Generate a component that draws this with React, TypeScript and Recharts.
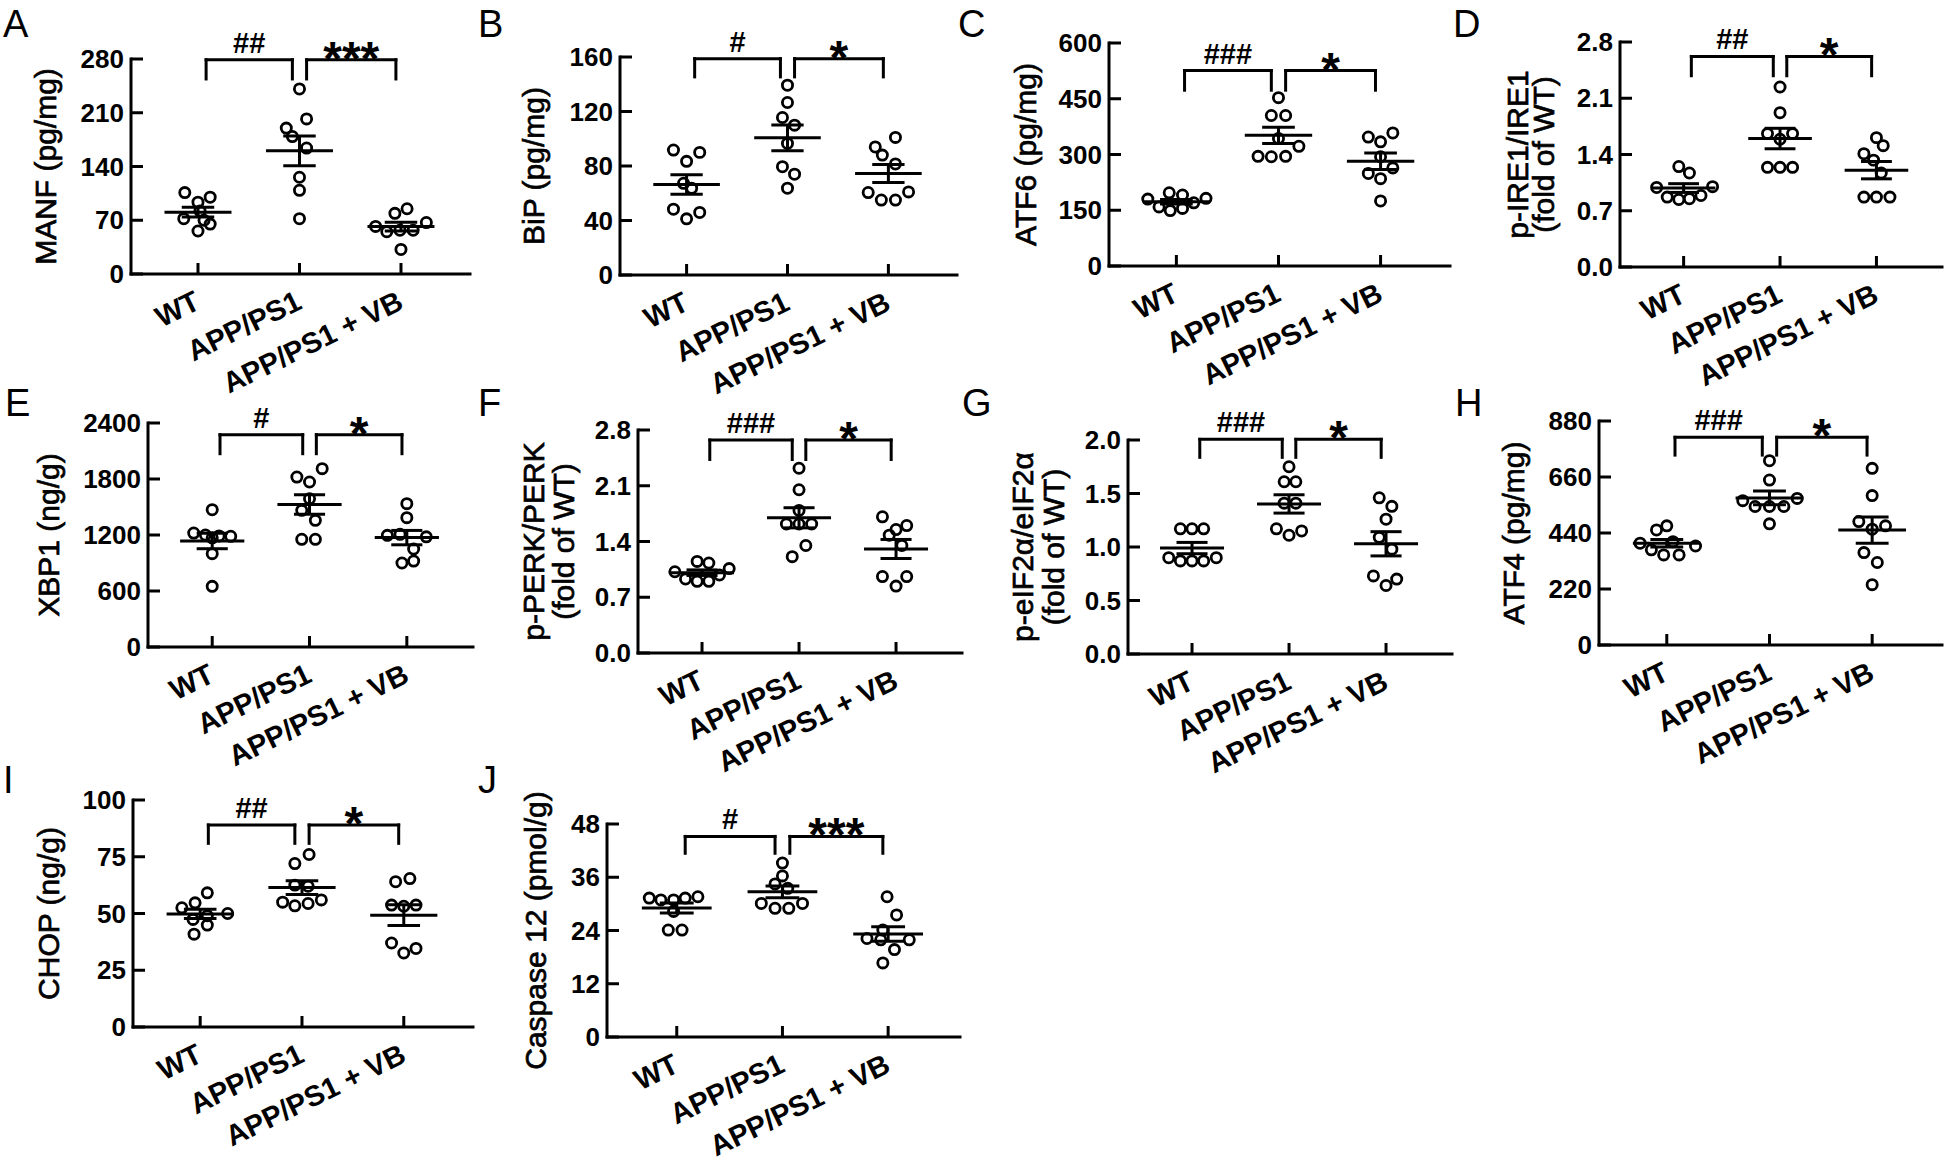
import React from 'react';
import { ScatterChart, Scatter, XAxis, YAxis, ReferenceLine } from 'recharts';

const FONT = "'Liberation Sans', Arial, Helvetica, sans-serif";

const groups = ['WT', 'APP/PS1', 'APP/PS1 + VB'];

// A - MANF (pg/mg)
const manfTicks = [0, 70, 140, 210, 280];
const manfSig = ['##', '***'];
const manfValues = [
  [106, 100, 93.5, 82, 72, 70, 65, 56],
  [241, 202, 190, 179, 164, 126, 109, 72],
  [79, 85, 62, 55, 57, 57, 67, 32],
];
const manfJitter = [
  [-0.13, 0.12, 0, 0.02, -0.14, 0.06, 0.12, 0],
  [0, 0.07, -0.13, -0.07, 0.07, 0, 0, 0],
  [-0.06, 0.06, -0.25, -0.14, -0.01, 0.12, 0.25, 0],
];

// B - BiP (pg/mg)
const bipTicks = [0, 40, 80, 120, 160];
const bipSig = ['#', '*'];
const bipValues = [
  [91.7, 90, 83.4, 67.3, 63.7, 48.3, 45.9, 41.2],
  [139.3, 126.6, 115.6, 110, 96.6, 79.5, 74, 63.7],
  [101, 94, 88, 81.5, 60.5, 55, 55, 61],
];
const bipJitter = [
  [-0.13, 0.13, 0, -0.03, 0.05, -0.13, 0.13, 0],
  [0, 0, -0.05, 0.07, 0, -0.05, 0.07, 0],
  [0.07, -0.13, -0.06, 0.07, -0.2, -0.07, 0.07, 0.2],
];

// C - ATF6 (pg/mg)
const atf6Ticks = [0, 150, 300, 450, 600];
const atf6Sig = ['###', '*'];
const atf6Values = [
  [180, 159, 197, 149, 191, 155, 170, 182],
  [453, 405, 405, 343, 322, 295, 294, 295],
  [358, 347, 334, 294, 264, 249, 235, 175],
];
const atf6Jitter = [
  [-0.28, -0.17, -0.07, -0.06, 0.06, 0.06, 0.17, 0.29],
  [0, -0.07, 0.07, 0, 0.2, -0.2, -0.07, 0.07],
  [0.12, -0.12, 0, 0, 0.12, -0.12, 0, 0],
];

// D - p-IRE1/IRE1
const ire1Ticks = [0, 0.7, 1.4, 2.1, 2.8];
const ire1Sig = ['##', '*'];
const ire1Values = [
  [1.25, 1.17, 0.99, 1.0, 0.87, 0.84, 0.85, 0.89],
  [2.24, 1.92, 1.66, 1.66, 1.59, 1.24, 1.24, 1.24],
  [1.61, 1.51, 1.41, 1.33, 1.17, 0.87, 0.87, 0.87],
];
const ire1Jitter = [
  [-0.05, 0.06, -0.28, 0.3, -0.17, -0.05, 0.06, 0.18],
  [0, 0, -0.13, 0.13, 0, -0.13, 0, 0.13],
  [0, 0.07, -0.13, -0.03, 0.05, -0.13, 0, 0.14],
];

// E - XBP1 (ng/g)
const xbp1Ticks = [0, 600, 1200, 1800, 2400];
const xbp1Sig = ['#', '*'];
const xbp1Values = [
  [1471, 1221, 1200, 1190, 1186, 1170, 1000, 650],
  [1911, 1821, 1768, 1589, 1464, 1357, 1154, 1154],
  [1536, 1386, 1207, 1196, 1180, 1050, 921, 900],
];
const xbp1Jitter = [
  [0, -0.19, -0.07, 0.07, 0.19, 0, 0, 0],
  [0.13, -0.13, 0, 0, -0.08, 0.06, -0.08, 0.06],
  [0, 0, -0.07, -0.2, 0.2, 0.07, 0.07, -0.05],
];

// F - p-PERK/PERK
const perkTicks = [0, 0.7, 1.4, 2.1, 2.8];
const perkSig = ['###', '*'];
const perkValues = [
  [1.15, 1.13, 1.02, 1.06, 0.93, 0.9, 0.9, 0.98],
  [2.32, 2.05, 1.79, 1.62, 1.62, 1.62, 1.35, 1.21],
  [1.71, 1.6, 1.55, 1.48, 1.35, 0.96, 0.96, 0.84],
];
const perkJitter = [
  [-0.05, 0.07, -0.28, 0.28, -0.17, -0.05, 0.07, 0.18],
  [0, 0, 0, -0.13, 0, 0.13, 0.07, -0.07],
  [-0.14, 0.11, 0, -0.07, 0.06, -0.14, 0.11, 0],
];

// G - p-eIF2a/eIF2a
const eifTicks = [0, 0.5, 1.0, 1.5, 2.0];
const eifSig = ['###', '*'];
const eifValues = [
  [1.17, 1.17, 1.17, 0.9, 0.87, 0.87, 0.87, 0.9],
  [1.75, 1.61, 1.61, 1.41, 1.41, 1.17, 1.11, 1.15],
  [1.46, 1.38, 1.26, 1.09, 0.98, 0.73, 0.7, 0.64],
];
const eifJitter = [
  [-0.12, 0, 0.12, -0.24, -0.12, 0, 0.12, 0.25],
  [0, -0.05, 0.07, -0.05, 0.07, -0.13, 0, 0.13],
  [-0.07, 0.06, 0, -0.07, 0.06, -0.13, 0.11, 0],
];

// H - ATF4 (pg/mg)
const atf4Ticks = [0, 220, 440, 660, 880];
const atf4Sig = ['###', '*'];
const atf4Values = [
  [468, 452, 406, 400, 389, 374, 354, 354],
  [724, 648, 576, 567, 544, 544, 544, 476],
  [694, 587, 485, 468, 455, 363, 324, 237],
];
const atf4Jitter = [
  [0, -0.1, 0.06, -0.26, 0.28, -0.15, -0.03, 0.12],
  [0, 0, 0.27, -0.26, -0.14, 0, 0.14, 0],
  [0, 0, -0.13, 0.13, 0, -0.08, 0.05, 0],
];

// I - CHOP (ng/g)
const chopTicks = [0, 25, 50, 75, 100];
const chopSig = ['##', '*'];
const chopValues = [
  [59.1, 54.7, 52.5, 50, 49, 47.4, 44.9, 40.9],
  [76, 72, 62.5, 62, 55, 53.4, 54.4, 56],
  [64, 65.4, 53.7, 53.2, 53.7, 37, 32.6, 34.6],
];
const chopJitter = [
  [0.07, -0.05, -0.18, 0.27, 0.07, -0.07, 0.07, -0.06],
  [0.07, -0.07, -0.07, 0.06, -0.19, -0.07, 0.06, 0.19],
  [-0.08, 0.06, -0.12, 0, 0.12, -0.12, 0, 0.12],
];

// J - Caspase 12 (pmol/g)
const caspTicks = [0, 12, 24, 36, 48];
const caspSig = ['#', '***'];
const caspValues = [
  [31.3, 30.9, 30.9, 31.3, 31.6, 28.3, 24.1, 24.1],
  [39.2, 36.3, 34.5, 33.5, 30.1, 29, 29, 30.1],
  [31.6, 27.5, 24.1, 22.2, 21.9, 21.9, 19.7, 16.7],
];
const caspJitter = [
  [-0.26, -0.15, -0.03, 0.08, 0.2, -0.03, -0.08, 0.05],
  [0, 0, -0.07, 0.05, -0.2, -0.07, 0.06, 0.19],
  [-0.01, 0.08, -0.05, -0.2, -0.07, 0.2, 0.06, -0.05],
];

// layout of each panel on the page (pixels) + bracket heights (data units)
const panels = [
  { letter: 'A', lx: 3, ly: 37, vals: manfValues, jit: manfJitter, ticks: manfTicks, sig: manfSig, dec: 0,
    title: ['MANF (pg/mg)'], titleOff: [86], axisX: 131, right: 470, yTop: 59, y0: 274, br: [254, 279] },
  { letter: 'B', lx: 478, ly: 37, vals: bipValues, jit: bipJitter, ticks: bipTicks, sig: bipSig, dec: 0,
    title: ['BiP (pg/mg)'], titleOff: [87], axisX: 620, right: 957, yTop: 57, y0: 275, br: [145.4, 158.8] },
  { letter: 'C', lx: 958, ly: 37, vals: atf6Values, jit: atf6Jitter, ticks: atf6Ticks, sig: atf6Sig, dec: 0,
    title: ['ATF6 (pg/mg)'], titleOff: [84], axisX: 1109, right: 1450, yTop: 43, y0: 266, br: [473, 526] },
  { letter: 'D', lx: 1453, ly: 37, vals: ire1Values, jit: ire1Jitter, ticks: ire1Ticks, sig: ire1Sig, dec: 1,
    title: ['p-IRE1/IRE1', '(fold of WT)'], titleOff: [103, 77], axisX: 1620, right: 1942, yTop: 42, y0: 267, br: [2.38, 2.62] },
  { letter: 'E', lx: 5, ly: 416, vals: xbp1Values, jit: xbp1Jitter, ticks: xbp1Ticks, sig: xbp1Sig, dec: 0,
    title: ['XBP1 (ng/g)'], titleOff: [100], axisX: 148, right: 473, yTop: 423, y0: 647, br: [2071, 2275] },
  { letter: 'F', lx: 478, ly: 416, vals: perkValues, jit: perkJitter, ticks: perkTicks, sig: perkSig, dec: 1,
    title: ['p-PERK/PERK', '(fold of WT)'], titleOff: [105, 75], axisX: 638, right: 962, yTop: 430, y0: 653, br: [2.43, 2.674] },
  { letter: 'G', lx: 962, ly: 416, vals: eifValues, jit: eifJitter, ticks: eifTicks, sig: eifSig, dec: 1,
    title: ['p-eIF2α/eIF2α', '(fold of WT)'], titleOff: [106, 75], axisX: 1128, right: 1452, yTop: 440, y0: 654, br: [1.838, 2.006] },
  { letter: 'H', lx: 1455, ly: 416, vals: atf4Values, jit: atf4Jitter, ticks: atf4Ticks, sig: atf4Sig, dec: 0,
    title: ['ATF4 (pg/mg)'], titleOff: [86], axisX: 1599, right: 1942, yTop: 421, y0: 645, br: [746, 816] },
  { letter: 'I', lx: 3, ly: 793, vals: chopValues, jit: chopJitter, ticks: chopTicks, sig: chopSig, dec: 0,
    title: ['CHOP (ng/g)'], titleOff: [85], axisX: 133, right: 473, yTop: 800, y0: 1027, br: [80.9, 89] },
  { letter: 'J', lx: 478, ly: 793, vals: caspValues, jit: caspJitter, ticks: caspTicks, sig: caspSig, dec: 0,
    title: ['Caspase 12 (pmol/g)'], titleOff: [72], axisX: 607, right: 960, yTop: 824, y0: 1037, br: [41.4, 45.2] },
];

const mean = (a: number[]) => a.reduce((s, v) => s + v, 0) / a.length;
const sem = (a: number[]) => {
  const m = mean(a);
  return Math.sqrt(a.reduce((s, v) => s + (v - m) ** 2, 0) / (a.length - 1) / a.length);
};

const Ring = (p: any) => (
  <circle cx={p.cx} cy={p.cy} r={5.1} fill="none" stroke="#000" strokeWidth={2.8} />
);

const YTick = ({ x, y, payload, dec }: any) => (
  <g>
    <line x1={x} y1={y} x2={x + 12} y2={y} stroke="#000" strokeWidth={3} />
    <text x={x - 7} y={y} textAnchor="end" dominantBaseline="central" fontSize={26}
      fontWeight="bold" fontFamily={FONT} fill="#000">
      {Number(payload.value).toFixed(dec)}
    </text>
  </g>
);

const XTick = ({ x, y, payload }: any) => (
  <g>
    <line x1={x} y1={y} x2={x} y2={y - 11} stroke="#000" strokeWidth={3} />
    <text transform={`translate(${x + 4},${y + 34}) rotate(-26)`} textAnchor="end" fontSize={29}
      fontWeight="bold" fontFamily={FONT} fill="#000">
      {groups[payload.value]}
    </text>
  </g>
);

const sigLabel = (text: string) => (props: any) => {
  const vb = props.viewBox;
  const star = text.startsWith('*');
  return (
    <text x={vb.x + vb.width / 2} y={star ? vb.y + 15 : vb.y - 7} textAnchor="middle"
      fontSize={star ? 48 : 29} fontWeight="bold" fontFamily={FONT} fill="#000">
      {text}
    </text>
  );
};

const LINE = { stroke: '#000', strokeWidth: 3, ifOverflow: 'visible' as const };

function Panel({ cfg }: { cfg: any }) {
  const ML = 130, MR = 4, MT = 50, MB = 150;
  const w = cfg.right - cfg.axisX + ML + MR;
  const h = cfg.y0 - cfg.yTop + MT + MB;
  const [bLow, bTop] = cfg.br;
  const yMax = cfg.ticks[cfg.ticks.length - 1];

  const titleLabel = (props: any) => {
    const vb = props.viewBox;
    const ax = vb.x + vb.width;
    const cy = vb.y + vb.height / 2;
    return (
      <g>
        {cfg.title.map((t: string, i: number) => {
          const tx = ax - cfg.titleOff[i];
          return (
            <text key={i} x={tx} y={cy} transform={`rotate(-90, ${tx}, ${cy})`} textAnchor="middle"
              dominantBaseline="central" fontSize={30} fontFamily={FONT} fill="#000"
              stroke="#000" strokeWidth={0.7}>
              {t}
            </text>
          );
        })}
      </g>
    );
  };

  return (
    <div style={{ position: 'absolute', left: cfg.axisX - ML, top: cfg.yTop - MT }}>
      <ScatterChart width={w} height={h} margin={{ top: MT, right: MR, bottom: MB - 30, left: ML - 60 }}>
        <XAxis type="number" dataKey="x" domain={[-0.66, 2.68]} ticks={[0, 1, 2]} interval={0}
          height={30} tickSize={0} tickMargin={0} tickLine={false}
          axisLine={{ stroke: '#000', strokeWidth: 3, strokeLinecap: 'square' }} tick={<XTick />} />
        <YAxis type="number" dataKey="y" domain={[0, yMax]} ticks={cfg.ticks} interval={0}
          width={60} tickSize={0} tickMargin={0} tickLine={false}
          axisLine={{ stroke: '#000', strokeWidth: 3, strokeLinecap: 'square' }}
          tick={<YTick dec={cfg.dec} />} label={titleLabel} />

        {/* significance brackets */}
        {[[0.08, 0.93], [1.07, 1.95]].map(([a, b], k) => (
          <React.Fragment key={'br' + k}>
            <ReferenceLine segment={[{ x: a, y: bLow }, { x: a, y: bTop }]} {...LINE} strokeLinecap="square" />
            <ReferenceLine segment={[{ x: a, y: bTop }, { x: b, y: bTop }]} {...LINE} strokeLinecap="square"
              label={sigLabel(cfg.sig[k])} />
            <ReferenceLine segment={[{ x: b, y: bTop }, { x: b, y: bLow }]} {...LINE} strokeLinecap="square" />
          </React.Fragment>
        ))}

        {cfg.vals.map((vals: number[], g: number) => {
          const pts = vals.map((v, i) => ({ x: g + cfg.jit[g][i], y: v }));
          return (
            <Scatter key={'s' + g} data={pts} shape={Ring} isAnimationActive={false} />
          );
        })}

        {/* mean and SEM */}
        {cfg.vals.map((vals: number[], g: number) => {
          const m = mean(vals);
          const e = sem(vals);
          return (
            <React.Fragment key={'m' + g}>
              <ReferenceLine segment={[{ x: g - 0.33, y: m }, { x: g + 0.33, y: m }]} {...LINE} />
              <ReferenceLine segment={[{ x: g, y: m - e }, { x: g, y: m + e }]} {...LINE} />
              <ReferenceLine segment={[{ x: g - 0.16, y: m + e }, { x: g + 0.16, y: m + e }]} {...LINE} />
              <ReferenceLine segment={[{ x: g - 0.16, y: m - e }, { x: g + 0.16, y: m - e }]} {...LINE} />
            </React.Fragment>
          );
        })}
      </ScatterChart>
    </div>
  );
}

export default function App() {
  return (
    <div style={{ position: 'absolute', left: 0, top: 0, width: 1946, height: 1162, overflow: 'hidden', background: '#fff' }}>
      {panels.map((p) => (
        <Panel key={p.letter} cfg={p} />
      ))}
      <svg width={1946} height={1162} style={{ position: 'absolute', left: 0, top: 0, pointerEvents: 'none' }}>
        {panels.map((p) => (
          <text key={p.letter} x={p.lx} y={p.ly} fontSize={38} fontFamily={FONT} fill="#000">
            {p.letter}
          </text>
        ))}
      </svg>
    </div>
  );
}
